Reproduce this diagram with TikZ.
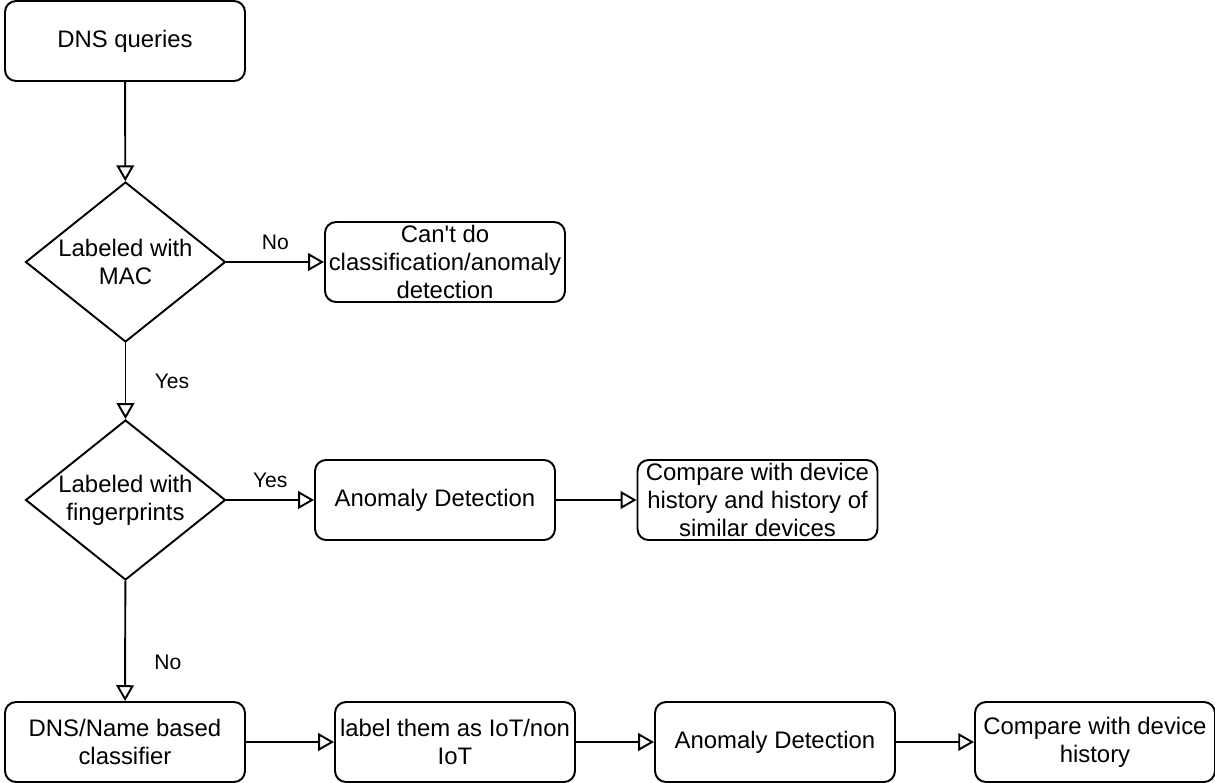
\documentclass[tikz,border=0pt]{standalone}
\usepackage{fontspec}
\setmainfont{Liberation Sans}[Ligatures=TeXOff]
\usetikzlibrary{shapes.geometric,arrows.meta}

\begin{document}
\begin{tikzpicture}[x=0.02cm,y=-0.02cm,
        box/.style={draw,rounded corners=0.22cm,line width=1.1pt,minimum width=4.8cm,minimum height=1.6cm,inner sep=1pt,align=center,font=\fontsize{13.6}{15.8}\selectfont},
        decision/.style={draw,diamond,line width=1.1pt,minimum width=4cm,minimum height=3.2cm,inner sep=0pt},
        dtext/.style={align=center,inner sep=0pt,font=\fontsize{13.6}{15.8}\selectfont},
        arr/.style={line width=1.1pt,-{Triangle[open,length=9pt,width=10pt]}},
        lbl/.style={font=\fontsize{12}{14}\selectfont}]
        \useasboundingbox (0,0) rectangle (1215,782);
        % top part
        \node[box] (dns) at (125,41) {DNS queries};
        \node[decision,label={[dtext]center:Labeled with\\MAC}] (mac) at (125.5,262) {};
        \node[box] (cant) at (445,262) {Can't do\\classification/anomaly\\detection};
        % fingerprints row
        \node[decision,label={[dtext]center:Labeled with\\fingerprints}] (finger) at (125.5,500) {};
        \node[box] (anomA) at (435,500) {Anomaly Detection};
        \node[box] (compA) at (757.5,500) {Compare with device\\history and history of\\similar devices};
        % bottom row
        \node[box] (classifier) at (125,742) {DNS/Name based\\classifier};
        \node[box] (labeliot) at (455,742) {label them as IoT/non\\IoT};
        \node[box] (anomB) at (775,742) {Anomaly Detection};
        \node[box] (compB) at (1095,742) {Compare with device\\history};
        % connectors
        \draw[arr] (dns) -- (mac);
        \draw[arr] (mac) -- node[lbl,above=3pt] {No} (cant);
        \draw[arr] (mac) -- node[lbl,anchor=west,xshift=0.45cm] {Yes} (finger);
        \draw[arr] (finger) -- node[lbl,above=3pt] {Yes} (anomA);
        \draw[arr] (anomA) -- (compA);
        \draw[arr] (finger) -- node[lbl,pos=0.68,anchor=west,xshift=0.45cm] {No} (classifier);
        \draw[arr] (classifier) -- (labeliot);
        \draw[arr] (labeliot) -- (anomB);
        \draw[arr] (anomB) -- (compB);
\end{tikzpicture}
\end{document}
